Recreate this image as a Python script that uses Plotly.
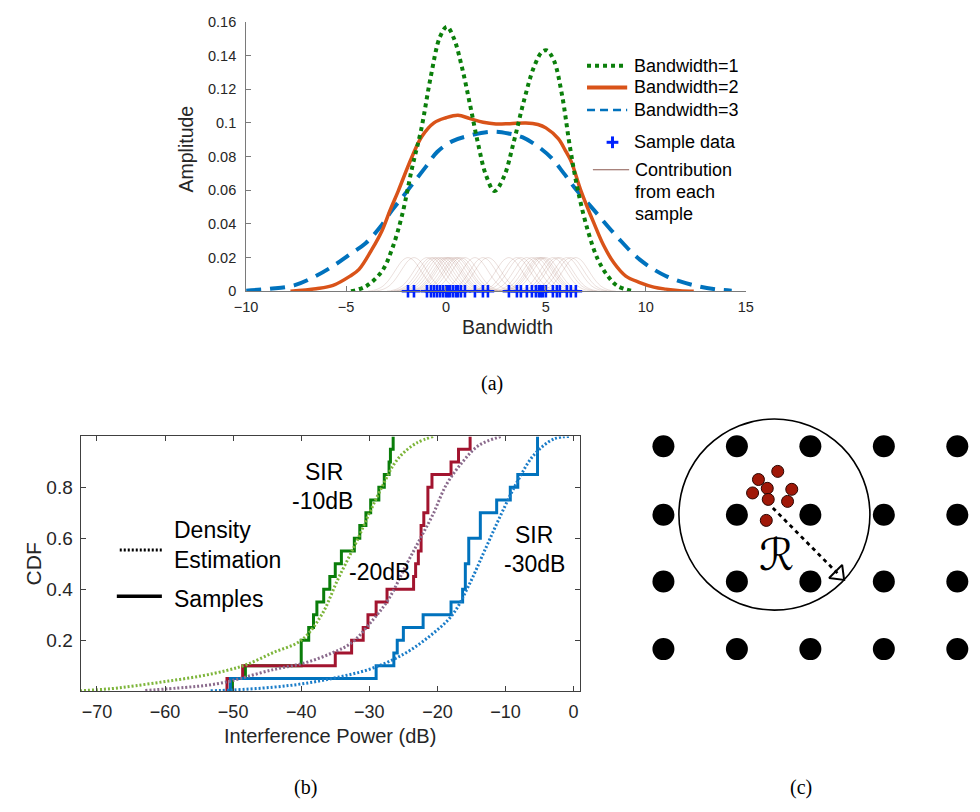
import plotly.graph_objects as go

W, H = 980, 812
SANS = "Liberation Sans, Arial, Helvetica, sans-serif"
SERIF = "Liberation Serif, Times New Roman, serif"

# ---------------- Panel (a): kernel density curves ----------------
BW1_X = [-4.75, -4.0, -3.2, -2.7, -2.2, -1.7, -1.24, -0.75, -0.3, 0.05, 0.4, 0.8, 1.2, 1.6, 2.0,
         2.43, 2.9, 3.4, 3.9, 4.4, 4.8, 5.05, 5.4, 5.8, 6.2, 6.6, 7.1, 7.6, 8.1, 8.6, 9.38]
BW1_Y = [0.0, 0.003, 0.012, 0.025, 0.045, 0.073, 0.096, 0.128, 0.151, 0.157, 0.150, 0.133, 0.111, 0.088, 0.069,
         0.0595, 0.068, 0.089, 0.113, 0.133, 0.142, 0.143, 0.137, 0.117, 0.086, 0.060, 0.036, 0.019, 0.009, 0.003, 0.0]

BW2_X = [-7.78, -6.5, -5.65, -4.8, -4.35, -3.7, -3.2, -2.8, -2.39, -1.73, -1.2, -0.6, 0.0, 0.6, 1.2, 1.86,
         2.5, 3.2, 4.0, 4.6, 5.0, 5.62, 6.0, 6.27, 6.76, 7.42, 7.9, 8.4, 9.0, 9.7, 10.4, 11.0, 11.7, 12.4]
BW2_Y = [0.0, 0.0015, 0.0035, 0.009, 0.013, 0.025, 0.036, 0.048, 0.0595, 0.079, 0.092, 0.100, 0.103, 0.1045, 0.1025, 0.1003,
         0.0993, 0.0995, 0.0999, 0.099, 0.097, 0.0906, 0.083, 0.077, 0.0595, 0.040, 0.027, 0.0169, 0.009, 0.0052, 0.0025, 0.0013, 0.0004, 0.0]

BW3_X = [-10.0, -8.8, -7.6, -6.6, -5.65, -4.8, -4.02, -3.3, -2.71, -2.1, -1.57, -1.0, -0.43, 0.3, 1.21, 2.35,
         3.2, 3.82, 4.6, 5.29, 5.9, 6.44, 7.42, 8.56, 9.7, 11.0, 12.5, 13.5, 14.3]
BW3_Y = [0.0004, 0.0015, 0.0035, 0.0085, 0.015, 0.022, 0.0285, 0.038, 0.048, 0.057, 0.0653, 0.074, 0.0828, 0.089, 0.0925, 0.0948,
         0.0935, 0.0915, 0.086, 0.079, 0.070, 0.0615, 0.048, 0.0324, 0.0188, 0.0091, 0.0033, 0.0012, 0.0004]

SAMPLES = [-1.9, -1.6, -0.95, -0.75, -0.6, -0.45, -0.3, -0.15, 0.0, 0.1, 0.2, 0.35, 0.5, 0.6, 0.75, 0.95,
           1.45, 1.85, 2.1, 3.15, 3.55, 3.75, 4.05, 4.3, 4.5, 4.65, 4.75, 4.85, 5.0, 5.35, 5.55, 5.7,
           6.05, 6.25, 6.5]

# shape of one sample's contribution (offset from sample, height)
KERNEL_OFFSET = [-2.0, -1.75, -1.5, -1.25, -1.0, -0.75, -0.5, -0.25, 0.0, 0.25, 0.5, 0.75, 1.0, 1.25, 1.5, 1.75, 2.0]
KERNEL_AMP = [0.0001, 0.0005, 0.0014, 0.0031, 0.0061, 0.0103, 0.0149, 0.0186, 0.02,
              0.0186, 0.0149, 0.0103, 0.0061, 0.0031, 0.0014, 0.0005, 0.0001]

A_XTICKS = [-10, -5, 0, 5, 10, 15]
A_YTICKS = [0, 0.02, 0.04, 0.06, 0.08, 0.1, 0.12, 0.14, 0.16]
A_YTICKTEXT = ["0", "0.02", "0.04", "0.06", "0.08", "0.1", "0.12", "0.14", "0.16"]

# ---------------- Panel (b): CDFs ----------------
KDE10_X = [-72.5, -68, -64.3, -59.5, -54.7, -50.9, -48.0, -44.1, -40.0, -37.0, -34.6, -32.0, -29.8, -27.8, -26.4, -25.0, -23.0, -20.6]
KDE10_Y = [0.002, 0.01, 0.022, 0.04, 0.06, 0.082, 0.105, 0.152, 0.2, 0.3, 0.44, 0.58, 0.71, 0.82, 0.89, 0.935, 0.975, 1.0]

KDE20_X = [-62.9, -57.1, -53.7, -50.9, -49.0, -44.1, -39.4, -35.5, -32.6, -29.8, -27.2, -24.5, -22.6, -20.6, -18.7, -16.3, -13.9, -10.6]
KDE20_Y = [0.003, 0.015, 0.024, 0.037, 0.05, 0.085, 0.112, 0.15, 0.19, 0.27, 0.36, 0.5, 0.595, 0.697, 0.81, 0.9, 0.965, 1.0]

KDE30_X = [-53.3, -50.0, -44.1, -39.4, -34.6, -29.8, -25.0, -21.1, -17.8, -15.4, -13.0, -10.6, -8.2, -5.8, -2.9, -0.5]
KDE30_Y = [0.002, 0.005, 0.016, 0.031, 0.055, 0.088, 0.145, 0.217, 0.3, 0.415, 0.556, 0.697, 0.826, 0.928, 0.99, 1.0]

EMP10_X = [-50.1, -48.2, -40.0, -38.9, -38.2, -37.7, -36.7, -35.8, -35.0, -34.1, -32.2, -31.4, -30.5, -29.8, -28.6, -27.8, -27.1, -26.9, -26.5]
EMP10_Y = [0.05, 0.1, 0.2, 0.25, 0.3, 0.35, 0.4, 0.45, 0.5, 0.55, 0.6, 0.65, 0.7, 0.75, 0.8, 0.85, 0.9, 0.95, 1.0]

EMP20_X = [-50.9, -48.6, -35.0, -32.6, -30.9, -30.2, -29.0, -27.4, -23.5, -23.2, -22.8, -22.4, -22.0, -21.4, -20.8, -18.0, -16.9, -15.2]
EMP20_Y = [0.05, 0.1, 0.15, 0.2, 0.25, 0.3, 0.35, 0.4, 0.45, 0.5, 0.55, 0.65, 0.7, 0.8, 0.85, 0.9, 0.95, 1.0]

EMP30_X = [-50.4, -29.0, -26.4, -25.9, -25.0, -22.1, -18.0, -16.3, -15.9, -15.4, -13.7, -11.3, -9.3, -8.2, -5.3]
EMP30_Y = [0.05, 0.1, 0.15, 0.2, 0.25, 0.3, 0.35, 0.4, 0.5, 0.6, 0.7, 0.75, 0.8, 0.85, 1.0]

B_XTICKS = [-70, -60, -50, -40, -30, -20, -10, 0]
B_YTICKS = [0.2, 0.4, 0.6, 0.8]

# ---------------- Panel (c): diagram (units: px offset inside panel) ----------------
GRID_COLS = [45, 120, 195, 270, 345]
GRID_ROWS = [37, 107, 175, 244]
USERS_X = [161.7, 142, 151, 136, 176, 152, 171.7, 150]
USERS_Y = [62.7, 71, 80, 84.7, 81, 91.3, 93.3, 112.7]
CIRCLE_C = (158.3, 106.7)
CIRCLE_R = 97.5
ARROW_X = [156.7, 229.3]
ARROW_Y = [100.0, 173.3]
R_LABEL = (160, 147)


def px(x):
    return x / W


def py(y):
    return 1 - y / H


fig = go.Figure()

# ---- (a) contributions
cx, cy = [], []
for s in SAMPLES:
    cx += [s + o for o in KERNEL_OFFSET] + [None]
    cy += KERNEL_AMP + [None]
fig.add_trace(go.Scatter(x=cx, y=cy, mode="lines", line=dict(color="rgba(150,95,80,0.28)", width=0.7, shape="spline"),
                         xaxis="x", yaxis="y", showlegend=False, hoverinfo="skip"))
fig.add_trace(go.Scatter(x=BW3_X, y=BW3_Y, mode="lines", line=dict(color="#0072BD", width=4, dash="15px,9px", shape="spline"),
                         xaxis="x", yaxis="y", showlegend=False, cliponaxis=False))
fig.add_trace(go.Scatter(x=BW2_X, y=BW2_Y, mode="lines", line=dict(color="#D95319", width=3.5, shape="spline"),
                         xaxis="x", yaxis="y", showlegend=False, cliponaxis=False))
fig.add_trace(go.Scatter(x=BW1_X, y=BW1_Y, mode="lines", line=dict(color="#0B7F0B", width=4, dash="4px,4px", shape="spline"),
                         xaxis="x", yaxis="y", showlegend=False, cliponaxis=False))
fig.add_trace(go.Scatter(x=SAMPLES, y=[0] * len(SAMPLES), mode="markers",
                         marker=dict(symbol="cross-thin", size=9, line=dict(color="#0022FF", width=2.6)),
                         xaxis="x", yaxis="y", showlegend=False, cliponaxis=False))

# ---- (b)
for X, Y, col in [(EMP10_X, EMP10_Y, "#0A7D0A"), (EMP20_X, EMP20_Y, "#A2142F"), (EMP30_X, EMP30_Y, "#0072BD")]:
    fig.add_trace(go.Scatter(x=[X[0]] + X, y=[0] + Y, mode="lines", line=dict(color=col, width=3, shape="hv"),
                             xaxis="x2", yaxis="y2", showlegend=False))
for X, Y, col in [(KDE10_X, KDE10_Y, "#7DB53A"), (KDE20_X, KDE20_Y, "#8A6A8C"), (KDE30_X, KDE30_Y, "#1A7CC8")]:
    fig.add_trace(go.Scatter(x=X, y=Y, mode="lines", line=dict(color=col, width=3, dash="2px,2px", shape="spline"),
                             xaxis="x2", yaxis="y2", showlegend=False))

# ---- (c)
gx = [c for r in GRID_ROWS for c in GRID_COLS]
gy = [r for r in GRID_ROWS for c in GRID_COLS]
fig.add_trace(go.Scatter(x=gx, y=gy, mode="markers", marker=dict(color="black", size=22, line=dict(width=0)),
                         xaxis="x3", yaxis="y3", showlegend=False))
fig.add_trace(go.Scatter(x=USERS_X, y=USERS_Y, mode="markers",
                         marker=dict(color="#A01808", size=12, line=dict(color="#2a0500", width=1)),
                         xaxis="x3", yaxis="y3", showlegend=False))
dx, dy = ARROW_X[1] - ARROW_X[0], ARROW_Y[1] - ARROW_Y[0]
L = (dx * dx + dy * dy) ** 0.5
head = 8.0
fig.add_trace(go.Scatter(x=[ARROW_X[0], ARROW_X[1] - dx / L * head * 1.2], y=[ARROW_Y[0], ARROW_Y[1] - dy / L * head * 1.2],
                         mode="lines", line=dict(color="black", width=2.8, dash="4px,4px"),
                         xaxis="x3", yaxis="y3", showlegend=False))
fig.add_trace(go.Scatter(x=[ARROW_X[1] - dx / L * head], y=[ARROW_Y[1] - dy / L * head], mode="markers",
                         marker=dict(symbol="triangle-up-open", size=16, angle=135, color="black", line=dict(width=2, color="black")),
                         xaxis="x3", yaxis="y3", showlegend=False))

shapes = []
shapes.append(dict(type="circle", xref="x3", yref="y3", x0=CIRCLE_C[0] - CIRCLE_R, x1=CIRCLE_C[0] + CIRCLE_R,
                   y0=CIRCLE_C[1] - CIRCLE_R, y1=CIRCLE_C[1] + CIRCLE_R, line=dict(color="black", width=1.6), layer="below"))

# legend (a)
def hline(x0, x1, y, color, width, dash="solid"):
    shapes.append(dict(type="line", xref="paper", yref="paper", x0=px(x0), x1=px(x1), y0=py(y), y1=py(y),
                       line=dict(color=color, width=width, dash=dash)))

hline(587, 626, 59, "#0B7F0B", 4, "4px,4px")
hline(587, 628, 81, "#D95319", 4)
hline(587, 628, 104, "#0072BD", 2.5, "8px,5px")
hline(607, 619, 137, "#0022FF", 3)
shapes.append(dict(type="line", xref="paper", yref="paper", x0=px(613), x1=px(613), y0=py(131), y1=py(143),
                   line=dict(color="#0022FF", width=3)))
hline(593, 630, 165, "#8B5A50", 1.2)
# legend (b)
hline(110, 153, 553, "black", 3, "2px,2px")
hline(107, 153, 600, "black", 3.5)

ann = []

def text(x, y, s, size, xanchor="center", family=SANS, color="#262626", angle=0):
    ann.append(dict(x=px(x), y=py(y), xref="paper", yref="paper", text=s, showarrow=False, xanchor=xanchor,
                    yanchor="middle", textangle=angle, font=dict(family=family, size=size, color=color)))

# panel (a) labels
text(633, 59, "Bandwidth=1", 18, "left", color="black")
text(633, 81, "Bandwidth=2", 18, "left", color="black")
text(633, 104, "Bandwidth=3", 18, "left", color="black")
text(633, 137, "Sample data", 18, "left", color="black")
text(634, 165, "Contribution", 18, "left", color="black")
text(634, 188, "from each", 18, "left", color="black")
text(634, 210, "sample", 18, "left", color="black")
text(178, 144, "Amplitude", 19.5, angle=-90)
text(506, 325, "Bandwidth", 19.5)
# panel (b) labels
text(163, 533, "Density", 23, "left", color="black")
text(163, 563, "Estimation", 23, "left", color="black")
text(163, 603, "Samples", 23, "left", color="black")
text(318, 473, "SIR", 23, color="black")
text(317, 503, "-10dB", 23, color="black")
text(375, 575, "-20dB", 23, color="black")
text(533, 538, "SIR", 23, color="black")
text(533, 567, "-30dB", 23, color="black")
text(22, 567, "CDF", 21, angle=-90)
text(325, 743, "Interference Power (dB)", 20)
# panel labels
text(490, 383, "(a)", 20, family=SERIF, color="black")
text(300, 795, "(b)", 20, family=SERIF, color="black")
text(805, 795, "(c)", 20, family=SERIF, color="black")
# R label in diagram
ann.append(dict(x=R_LABEL[0], y=R_LABEL[1], xref="x3", yref="y3", text="\u211B", showarrow=False,
                font=dict(family="DejaVu Serif, DejaVu Sans, serif", size=44, color="black")))

axis_common = dict(showgrid=False, zeroline=False, showline=True, ticks="inside", ticklen=5, tickwidth=1)

fig.update_layout(
    width=W, height=H, margin=dict(l=0, r=0, t=0, b=0),
    paper_bgcolor="white", plot_bgcolor="rgba(0,0,0,0)",
    showlegend=False,
    xaxis=dict(domain=[px(239), px(749)], range=[-10, 15], tickvals=A_XTICKS, anchor="y", ticklabelstandoff=2,
               linecolor="#7a7a7a", tickcolor="#7a7a7a", tickfont=dict(family=SANS, size=14.5, color="#262626"),
               **axis_common),
    yaxis=dict(domain=[py(289), py(14)], range=[0, 0.16], tickvals=A_YTICKS, ticktext=A_YTICKTEXT, anchor="x",
               ticklabelstandoff=6,
               linecolor="#7a7a7a", tickcolor="#7a7a7a", tickfont=dict(family=SANS, size=14.5, color="#262626"),
               **axis_common),
    xaxis2=dict(domain=[px(70), px(580)], range=[-72.4, 0.96], tickvals=B_XTICKS, anchor="y2", mirror="ticks",
                ticklabelstandoff=4,
                linecolor="#404040", tickcolor="#404040", tickfont=dict(family=SANS, size=18, color="#262626"),
                **axis_common),
    yaxis2=dict(domain=[py(697), py(437)], range=[0, 1], tickvals=B_YTICKS, anchor="x2", mirror="ticks",
                ticklabelstandoff=3,
                linecolor="#404040", tickcolor="#404040", tickfont=dict(family=SANS, size=19, color="#262626"),
                **axis_common),
    xaxis3=dict(domain=[px(620), 1.0], range=[0, 360], visible=False, anchor="y3"),
    yaxis3=dict(domain=[py(700), py(410)], range=[290, 0], visible=False, anchor="x3"),
    shapes=shapes,
    annotations=ann,
)

fig.write_html("out.html")
